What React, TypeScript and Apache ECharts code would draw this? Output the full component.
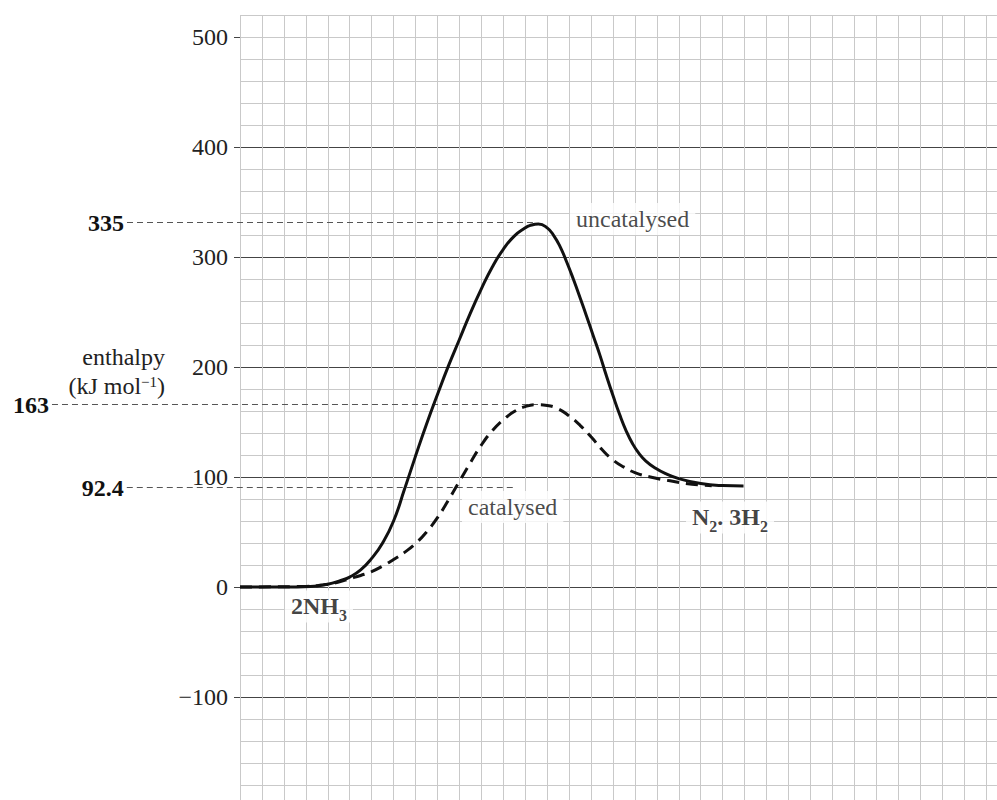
import React, { useEffect, useRef } from "react";
import * as echarts from "echarts";

// ---- data (x = grid squares along the reaction coordinate, y = kJ mol-1) ----
const yTickValues = [-100, 0, 100, 200, 300, 400, 500];

const uncatalysed: [number, number][] = [
  [0, 0], [2.0, 0], [3.2, 0.5], [4.0, 2.5], [4.6, 6], [5.0, 9], [5.5, 15.5], [6.0, 26],
  [6.5, 40], [7.0, 60], [7.5, 89], [8.0, 119], [8.5, 148], [9.0, 175], [9.5, 201],
  [10.0, 225], [10.5, 249], [11.0, 271], [11.5, 291], [12.0, 307], [12.5, 319],
  [13.0, 326.5], [13.2, 328.5], [13.6, 330], [14.0, 326.5], [14.3, 319.5], [14.6, 309],
  [14.9, 295], [15.2, 279.5], [15.5, 263], [15.8, 246], [16.1, 228.5], [16.4, 211],
  [16.7, 192], [17.0, 174], [17.3, 157], [17.6, 142], [17.9, 130], [18.2, 121],
  [18.5, 114.5], [18.9, 108.5], [19.4, 103], [20.0, 98.5], [21.0, 94], [22.0, 92.2],
  [22.95, 91.8],
];

const catalysed: [number, number][] = [
  [0, 0], [3.0, 0.5], [3.8, 2], [4.5, 4.5], [5.0, 7.5], [5.5, 10.5], [6.0, 14],
  [6.5, 19], [7.0, 25], [7.5, 31.5], [8.0, 39.5], [8.5, 50], [9.0, 63], [9.5, 79],
  [10.0, 96], [10.5, 113], [11.0, 129], [11.5, 142], [12.0, 152], [12.5, 159.5],
  [13.0, 164], [13.5, 165.7], [14.0, 165], [14.5, 162], [15.0, 155.5], [15.5, 147],
  [16.0, 136.5], [16.5, 125], [17.0, 115.5], [17.5, 109], [18.0, 104], [18.7, 100],
  [19.6, 96.5], [20.6, 93.5], [21.5, 92],
];

// reference levels (drawn height, printed label, extent along x)
const levelValues = [331.5, 166.5, 91.2];
const levelLabels = ["335", "163", "92.4"];
const levelFrom = [-5.15, -8.57, -5.16];
const levelTo = [13.35, 14.2, 12.53];

// curve / species annotations
const noteTexts = [
  "{r|uncatalysed}",
  "{r|catalysed}",
  "{b|2NH}{s|3}",
  "{b|N}{s|2}{b|. 3H}{s|2}",
];
const noteAt: [number, number][] = [
  [15.04, 334.5],
  [10.12, 72.7],
  [2.05, -17.7],
  [20.33, 63.2],
];

const SERIF = '"Liberation Serif", "Times New Roman", Times, serif';
const SQ = 21.94; // px per x unit
const PY = 1.1; // px per y unit

export default function App() {
  const ref = useRef<HTMLDivElement>(null);
  useEffect(() => {
    if (!ref.current) return;
    const chart = echarts.init(ref.current, undefined, { renderer: "svg" });

    const rich = {
      r: { fontFamily: SERIF, fontSize: 24, color: "#1a1a1a", lineHeight: 24, verticalAlign: "top" },
      b: {
        fontFamily: SERIF,
        fontSize: 24,
        fontWeight: "bold",
        color: "#111",
        lineHeight: 24,
        verticalAlign: "top",
      },
      s: {
        fontFamily: SERIF,
        fontSize: 16,
        fontWeight: "bold",
        color: "#111",
        lineHeight: 16,
        padding: [13, 0, 0, 0],
        verticalAlign: "top",
      },
    };

    const option: any = {
      animation: false,
      backgroundColor: "#ffffff",
      grid: {
        left: 240,
        top: 15,
        width: 34.5 * SQ,
        height: 720 * PY,
        outerBoundsMode: "none",
        containLabel: false,
      },
      xAxis: {
        type: "value",
        min: 0,
        max: 34.5,
        interval: 1,
        axisLine: { show: false },
        axisTick: { show: false },
        axisLabel: { show: false },
        splitLine: { show: true, showMaxLine: false, lineStyle: { color: "#c9c9c9", width: 1 } },
      },
      yAxis: [
        {
          type: "value",
          position: "left",
          min: -200,
          max: 520,
          interval: 20,
          axisLine: { show: false },
          axisTick: { show: false },
          axisLabel: { show: false },
          splitLine: { show: true, lineStyle: { color: "#c9c9c9", width: 1 } },
        },
        {
          type: "value",
          position: "left",
          min: -200,
          max: 520,
          interval: 100,
          axisLine: { show: false },
          axisTick: {
            show: true,
            length: 6,
            customValues: yTickValues,
            lineStyle: { color: "#444", width: 1 },
          },
          axisLabel: {
            show: true,
            customValues: yTickValues,
            margin: 12,
            fontFamily: SERIF,
            fontSize: 24,
            color: "#222",
            formatter: (v: number) =>
              v % 100 !== 0 || v < -100 || v > 500 ? "" : v < 0 ? "\u2212" + Math.abs(v) : String(v),
          },
          splitLine: {
            show: true,
            showMaxLine: false,
            lineStyle: { color: "#444", width: 1 },
          },
        },
      ],
      series: [
        {
          type: "scatter",
          yAxisIndex: 0,
          symbolSize: 0,
          silent: true,
          z: 1,
          data: noteAt.map((p, i) => ({
            value: p,
            label: {
              show: true,
              position: "right",
              distance: 0,
              backgroundColor: "#ffffff",
              padding: [4, 6],
              formatter: noteTexts[i],
              rich,
            },
          })),
        },
        {
          type: "line",
          yAxisIndex: 0,
          data: catalysed,
          smooth: 0.5,
          symbol: "none",
          z: 4,
          lineStyle: { color: "#111", width: 3, type: [12, 7] },
        },
        {
          type: "line",
          yAxisIndex: 0,
          data: uncatalysed,
          smooth: 0.5,
          symbol: "none",
          z: 5,
          lineStyle: { color: "#111", width: 3 },
        },
      ],
    };
    chart.setOption(option);

    // level lines & their labels, placed through the chart's own scales
    const toPx = (p: [number, number]) =>
      chart.convertToPixel({ seriesIndex: 0 }, p) as unknown as number[];
    const graphics: any[] = [];
    levelValues.forEach((v, i) => {
      const a = toPx([levelFrom[i], v]);
      const b = toPx([levelTo[i], v]);
      const y = Math.round(a[1]) + 0.5;
      graphics.push({
        type: "line",
        z: 3,
        silent: true,
        shape: { x1: a[0], y1: y, x2: b[0], y2: y },
        style: { stroke: "#555", lineWidth: 1, lineDash: [6, 4] },
      });
      graphics.push({
        type: "text",
        z: 3,
        x: a[0] - 3,
        y: y,
        style: {
          text: levelLabels[i],
          font: `bold 24px ${SERIF}`,
          fill: "#111",
          align: "right",
          verticalAlign: "middle",
        },
      });
    });
    graphics.push({
      type: "text",
      x: 165,
      y: 357,
      style: {
        text: "enthalpy",
        font: `24px ${SERIF}`,
        fill: "#222",
        align: "right",
        verticalAlign: "middle",
      },
    });
    graphics.push({
      type: "text",
      x: 165,
      y: 386,
      style: {
        text: "{m|(kJ mol}{p|\u22121}{m|)}",
        fill: "#222",
        align: "right",
        verticalAlign: "middle",
        rich: {
          m: { fontFamily: SERIF, fontSize: 24, lineHeight: 24, fill: "#222" },
          p: { fontFamily: SERIF, fontSize: 15, lineHeight: 14, verticalAlign: "top", fill: "#222" },
        },
      },
    });
    chart.setOption({ graphic: graphics });

    return () => chart.dispose();
  }, []);

  return (
    <div
      ref={ref}
      style={{
        position: "absolute",
        left: 0,
        top: 0,
        width: 997,
        height: 800,
        overflow: "hidden",
        background: "#fff",
      }}
    />
  );
}
